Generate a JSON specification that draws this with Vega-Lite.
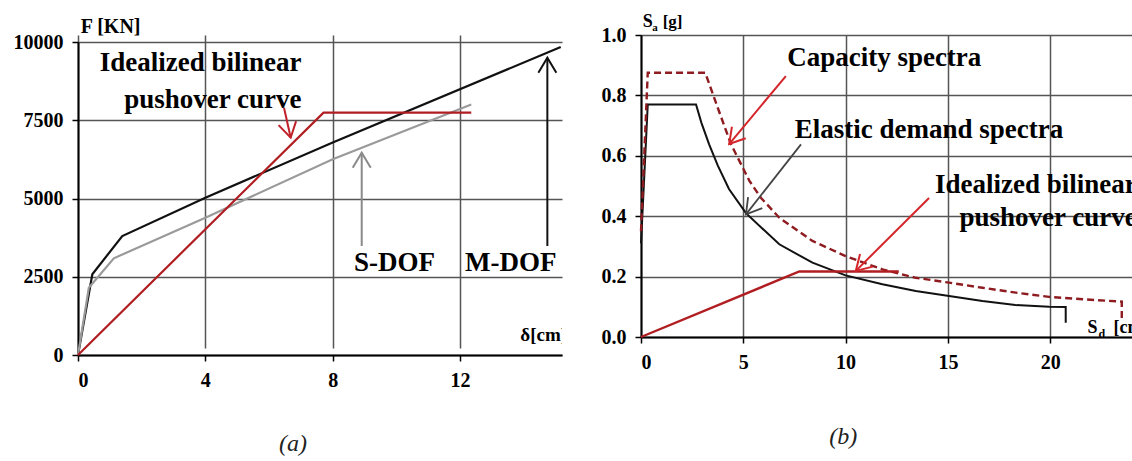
{
  "$schema": "https://vega.github.io/schema/vega-lite/v6.json",
  "padding": {"left": 13, "top": 12, "right": 0, "bottom": 0},
  "background": "white",
  "spacing": 79,
  "bounds": "flush",
  "config": {
    "view": {"stroke": null},
    "font": "Liberation Serif",
    "axis": {
      "labelFont": "Liberation Serif", "labelFontSize": 20, "labelFontWeight": "bold", "labelColor": "#000",
      "domainColor": "#000", "domainWidth": 2, "tickColor": "#000", "tickWidth": 1.5, "tickSize": 6,
      "gridColor": "#555", "gridWidth": 1.5, "gridOpacity": 1, "labelPadding": 9
    },
    "text": {"font": "Liberation Serif", "fontWeight": "bold", "color": "#000"}
  },
  "hconcat": [
    {
      "width": 484,
      "height": 320,
      "layer": [
        {
          "data": {"values": [
            {"s": "M-DOF", "i": 0, "x": 0, "y": 0},
            {"s": "M-DOF", "i": 1, "x": 0.45, "y": 2580},
            {"s": "M-DOF", "i": 2, "x": 1.39, "y": 3800},
            {"s": "M-DOF", "i": 3, "x": 4, "y": 5026},
            {"s": "M-DOF", "i": 4, "x": 8, "y": 6790},
            {"s": "M-DOF", "i": 5, "x": 15.16, "y": 9840},
            {"s": "S-DOF", "i": 0, "x": 0, "y": 0},
            {"s": "S-DOF", "i": 1, "x": 0.34, "y": 2150},
            {"s": "S-DOF", "i": 2, "x": 1.125, "y": 3090},
            {"s": "S-DOF", "i": 3, "x": 4, "y": 4387},
            {"s": "S-DOF", "i": 4, "x": 8, "y": 6252},
            {"s": "S-DOF", "i": 5, "x": 12.35, "y": 8000},
            {"s": "Bilinear", "i": 0, "x": 0, "y": 0},
            {"s": "Bilinear", "i": 1, "x": 7.71, "y": 7741},
            {"s": "Bilinear", "i": 2, "x": 12.35, "y": 7741}
          ]},
          "mark": {"type": "line", "strokeWidth": 2.2},
          "encoding": {
            "x": {"field": "x", "type": "quantitative", "scale": {"domain": [0, 15.2], "nice": false, "zero": false}, "axis": {"values": [0, 4, 8, 12], "title": null, "grid": true}},
            "y": {"field": "y", "type": "quantitative", "scale": {"domain": [0, 10000], "range": [320, 7], "nice": false}, "axis": {"values": [0, 2500, 5000, 7500, 10000], "format": "d", "title": null, "grid": true}},
            "color": {"field": "s", "type": "nominal", "scale": {"domain": ["M-DOF", "S-DOF", "Bilinear"], "range": ["#111111", "#9a9a9a", "#b01e22"]}, "legend": null},
            "order": {"field": "i", "type": "quantitative"}
          }
        },
        {
          "data": {"values": [{"x": 6.47, "y": 7901, "x2": 6.68, "y2": 6942}]},
          "layer": [
            {"mark": {"type": "rule", "color": "#c0202a", "strokeWidth": 2}, "encoding": {"x": {"field": "x", "type": "quantitative"}, "y": {"field": "y", "type": "quantitative"}, "x2": {"field": "x2"}, "y2": {"field": "y2"}}},
            {"mark": {"type": "point", "shape": "M-0.6,1L0,0L0.6,1", "size": 900, "angle": 167, "filled": false, "opacity": 1, "color": "#c0202a", "strokeWidth": 2}, "encoding": {"x": {"field": "x2", "type": "quantitative"}, "y": {"field": "y2", "type": "quantitative"}}}
          ]
        },
        {
          "data": {"values": [{"x": 8.91, "y": 3482, "x2": 8.91, "y2": 6463}]},
          "layer": [
            {"mark": {"type": "rule", "color": "#8a8a8a", "strokeWidth": 2}, "encoding": {"x": {"field": "x", "type": "quantitative"}, "y": {"field": "y", "type": "quantitative"}, "x2": {"field": "x2"}, "y2": {"field": "y2"}}},
            {"mark": {"type": "point", "shape": "M-0.6,1L0,0L0.6,1", "size": 900, "angle": 0, "filled": false, "opacity": 1, "color": "#8a8a8a", "strokeWidth": 2}, "encoding": {"x": {"field": "x2", "type": "quantitative"}, "y": {"field": "y2", "type": "quantitative"}}}
          ]
        },
        {
          "data": {"values": [{"x": 14.74, "y": 3482, "x2": 14.74, "y2": 9498}]},
          "layer": [
            {"mark": {"type": "rule", "color": "#111111", "strokeWidth": 2}, "encoding": {"x": {"field": "x", "type": "quantitative"}, "y": {"field": "y", "type": "quantitative"}, "x2": {"field": "x2"}, "y2": {"field": "y2"}}},
            {"mark": {"type": "point", "shape": "M-0.6,1L0,0L0.6,1", "size": 900, "angle": 0, "filled": false, "opacity": 1, "color": "#111111", "strokeWidth": 2}, "encoding": {"x": {"field": "x2", "type": "quantitative"}, "y": {"field": "y2", "type": "quantitative"}}}
          ]
        },
        {
          "data": {"values": [
            {"t": "Idealized bilinear", "x": 7.02, "y": 9073},
            {"t": "pushover curve", "x": 7.02, "y": 7891}
          ]},
          "mark": {"type": "text", "fontSize": 27, "align": "right", "baseline": "alphabetic"},
          "encoding": {"x": {"field": "x", "type": "quantitative"}, "y": {"field": "y", "type": "quantitative"}, "text": {"field": "t"}}
        },
        {
          "data": {"values": [
            {"t": "S-DOF", "x": 9.94, "y": 2684},
            {"t": "M-DOF", "x": 13.59, "y": 2684}
          ]},
          "mark": {"type": "text", "fontSize": 27, "align": "center", "baseline": "alphabetic"},
          "encoding": {"x": {"field": "x", "type": "quantitative"}, "y": {"field": "y", "type": "quantitative"}, "text": {"field": "t"}}
        },
        {
          "data": {"values": [{"t": "δ[cm]", "x": 13.89, "y": 447}]},
          "mark": {"type": "text", "fontSize": 19, "align": "left", "baseline": "alphabetic", "clip": true},
          "encoding": {"x": {"field": "x", "type": "quantitative"}, "y": {"field": "y", "type": "quantitative"}, "text": {"field": "t"}}
        },
        {
          "data": {"values": [{"t": "F [KN]", "x": 0.085, "y": 10288}]},
          "mark": {"type": "text", "fontSize": 20, "align": "left", "baseline": "alphabetic"},
          "encoding": {"x": {"field": "x", "type": "quantitative"}, "y": {"field": "y", "type": "quantitative"}, "text": {"field": "t"}}
        },
        {
          "data": {"values": [{"t": "(a)", "x": 6.75, "y": -3067}]},
          "mark": {"type": "text", "fontSize": 24, "fontWeight": "normal", "fontStyle": "italic", "align": "center", "baseline": "alphabetic", "color": "#222"},
          "encoding": {"x": {"field": "x", "type": "quantitative"}, "y": {"field": "y", "type": "quantitative"}, "text": {"field": "t"}}
        }
      ]
    },
    {
      "width": 491,
      "height": 302,
      "layer": [
        {
          "data": {"values": [
            {"i": 0, "x": 0, "y": 0.31},
            {"i": 1, "x": 0.33, "y": 0.77},
            {"i": 2, "x": 2.69, "y": 0.77},
            {"i": 3, "x": 2.95, "y": 0.71},
            {"i": 4, "x": 3.33, "y": 0.638},
            {"i": 5, "x": 3.75, "y": 0.568},
            {"i": 6, "x": 4.3, "y": 0.49},
            {"i": 7, "x": 5.13, "y": 0.41},
            {"i": 8, "x": 6.76, "y": 0.307},
            {"i": 9, "x": 8.38, "y": 0.246},
            {"i": 10, "x": 10.0, "y": 0.204},
            {"i": 11, "x": 11.8, "y": 0.175},
            {"i": 12, "x": 13.43, "y": 0.152},
            {"i": 13, "x": 15.06, "y": 0.136},
            {"i": 14, "x": 16.69, "y": 0.119},
            {"i": 15, "x": 18.3, "y": 0.106},
            {"i": 16, "x": 19.95, "y": 0.1},
            {"i": 17, "x": 20.76, "y": 0.099},
            {"i": 18, "x": 20.76, "y": 0.047}
          ]},
          "mark": {"type": "line", "color": "#111111", "strokeWidth": 2},
          "encoding": {
            "x": {"field": "x", "type": "quantitative", "scale": {"domain": [0, 24], "nice": false, "zero": false}, "axis": {"values": [0, 5, 10, 15, 20], "format": "d", "title": null, "grid": true}},
            "y": {"field": "y", "type": "quantitative", "scale": {"domain": [0, 1], "nice": false}, "axis": {"values": [0, 0.2, 0.4, 0.6, 0.8, 1.0], "format": ".1f", "title": null, "grid": true}},
            "order": {"field": "i", "type": "quantitative"}
          }
        },
        {
          "data": {"values": [
            {"i": 0, "x": 0, "y": 0.35},
            {"i": 1, "x": 0.33, "y": 0.875},
            {"i": 2, "x": 3.14, "y": 0.875},
            {"i": 3, "x": 3.8, "y": 0.75},
            {"i": 4, "x": 4.4, "y": 0.638},
            {"i": 5, "x": 5.3, "y": 0.517},
            {"i": 6, "x": 5.86, "y": 0.461},
            {"i": 7, "x": 6.76, "y": 0.395},
            {"i": 8, "x": 8.38, "y": 0.318},
            {"i": 9, "x": 10.0, "y": 0.268},
            {"i": 10, "x": 11.8, "y": 0.224},
            {"i": 11, "x": 13.43, "y": 0.196},
            {"i": 12, "x": 15.06, "y": 0.18},
            {"i": 13, "x": 16.69, "y": 0.163},
            {"i": 14, "x": 18.32, "y": 0.147},
            {"i": 15, "x": 19.95, "y": 0.133},
            {"i": 16, "x": 21.6, "y": 0.125},
            {"i": 17, "x": 23.5, "y": 0.117},
            {"i": 18, "x": 23.5, "y": 0.053}
          ]},
          "mark": {"type": "line", "color": "#8e1b1f", "strokeWidth": 2.4, "strokeDash": [7, 4]},
          "encoding": {
            "x": {"field": "x", "type": "quantitative"},
            "y": {"field": "y", "type": "quantitative"},
            "order": {"field": "i", "type": "quantitative"}
          }
        },
        {
          "data": {"values": [
            {"i": 0, "x": 0, "y": 0},
            {"i": 1, "x": 7.74, "y": 0.217},
            {"i": 2, "x": 12.6, "y": 0.217}
          ]},
          "mark": {"type": "line", "color": "#b01e22", "strokeWidth": 2.4},
          "encoding": {
            "x": {"field": "x", "type": "quantitative"},
            "y": {"field": "y", "type": "quantitative"},
            "order": {"field": "i", "type": "quantitative"}
          }
        },
        {
          "data": {"values": [{"x": 7.08, "y": 0.864, "x2": 4.31, "y2": 0.639}]},
          "layer": [
            {"mark": {"type": "rule", "color": "#d4252b", "strokeWidth": 2}, "encoding": {"x": {"field": "x", "type": "quantitative"}, "y": {"field": "y", "type": "quantitative"}, "x2": {"field": "x2"}, "y2": {"field": "y2"}}},
            {"mark": {"type": "point", "shape": "M-0.6,1L0,0L0.6,1", "size": 900, "angle": 220, "filled": false, "opacity": 1, "color": "#d4252b", "strokeWidth": 2}, "encoding": {"x": {"field": "x2", "type": "quantitative"}, "y": {"field": "y2", "type": "quantitative"}}}
          ]
        },
        {
          "data": {"values": [{"x": 7.82, "y": 0.638, "x2": 5.13, "y2": 0.406}]},
          "layer": [
            {"mark": {"type": "rule", "color": "#444444", "strokeWidth": 1.8}, "encoding": {"x": {"field": "x", "type": "quantitative"}, "y": {"field": "y", "type": "quantitative"}, "x2": {"field": "x2"}, "y2": {"field": "y2"}}},
            {"mark": {"type": "point", "shape": "M-0.6,1L0,0L0.6,1", "size": 900, "angle": 218, "filled": false, "opacity": 1, "color": "#444444", "strokeWidth": 1.8}, "encoding": {"x": {"field": "x2", "type": "quantitative"}, "y": {"field": "y2", "type": "quantitative"}}}
          ]
        },
        {
          "data": {"values": [{"x": 14.08, "y": 0.46, "x2": 10.5, "y2": 0.219}]},
          "layer": [
            {"mark": {"type": "rule", "color": "#d4252b", "strokeWidth": 2}, "encoding": {"x": {"field": "x", "type": "quantitative"}, "y": {"field": "y", "type": "quantitative"}, "x2": {"field": "x2"}, "y2": {"field": "y2"}}},
            {"mark": {"type": "point", "shape": "M-0.6,1L0,0L0.6,1", "size": 900, "angle": 225, "filled": false, "opacity": 1, "color": "#d4252b", "strokeWidth": 2}, "encoding": {"x": {"field": "x2", "type": "quantitative"}, "y": {"field": "y2", "type": "quantitative"}}}
          ]
        },
        {
          "data": {"values": [
            {"t": "Capacity spectra", "x": 11.89, "y": 0.897},
            {"t": "Elastic demand spectra", "x": 14.08, "y": 0.66}
          ]},
          "mark": {"type": "text", "fontSize": 27, "align": "center", "baseline": "alphabetic"},
          "encoding": {"x": {"field": "x", "type": "quantitative"}, "y": {"field": "y", "type": "quantitative"}, "text": {"field": "t"}}
        },
        {
          "data": {"values": [
            {"t": "Idealized bilinear", "x": 24.23, "y": 0.477},
            {"t": "pushover curve", "x": 24.23, "y": 0.368}
          ]},
          "mark": {"type": "text", "fontSize": 27, "align": "right", "baseline": "alphabetic", "clip": true},
          "encoding": {"x": {"field": "x", "type": "quantitative"}, "y": {"field": "y", "type": "quantitative"}, "text": {"field": "t"}}
        },
        {
          "data": {"values": [{"t": "S", "x": 0.08, "y": 1.027}]},
          "mark": {"type": "text", "fontSize": 18, "align": "left", "baseline": "alphabetic"},
          "encoding": {"x": {"field": "x", "type": "quantitative"}, "y": {"field": "y", "type": "quantitative"}, "text": {"field": "t"}}
        },
        {
          "data": {"values": [{"t": "a", "x": 0.08, "y": 1.027}]},
          "mark": {"type": "text", "fontSize": 11, "align": "left", "baseline": "alphabetic", "dx": 9.5, "dy": 4},
          "encoding": {"x": {"field": "x", "type": "quantitative"}, "y": {"field": "y", "type": "quantitative"}, "text": {"field": "t"}}
        },
        {
          "data": {"values": [{"t": "[g]", "x": 0.08, "y": 1.027}]},
          "mark": {"type": "text", "fontSize": 17, "align": "left", "baseline": "alphabetic", "dx": 20},
          "encoding": {"x": {"field": "x", "type": "quantitative"}, "y": {"field": "y", "type": "quantitative"}, "text": {"field": "t"}}
        },
        {
          "data": {"values": [{"t": "S", "x": 21.82, "y": 0.014}]},
          "mark": {"type": "text", "fontSize": 18, "align": "left", "baseline": "alphabetic", "clip": true},
          "encoding": {"x": {"field": "x", "type": "quantitative"}, "y": {"field": "y", "type": "quantitative"}, "text": {"field": "t"}}
        },
        {
          "data": {"values": [{"t": "d", "x": 21.82, "y": 0.014}]},
          "mark": {"type": "text", "fontSize": 12, "align": "left", "baseline": "alphabetic", "dx": 11, "dy": 5, "clip": true},
          "encoding": {"x": {"field": "x", "type": "quantitative"}, "y": {"field": "y", "type": "quantitative"}, "text": {"field": "t"}}
        },
        {
          "data": {"values": [{"t": "[cm]", "x": 21.82, "y": 0.014}]},
          "mark": {"type": "text", "fontSize": 18, "align": "left", "baseline": "alphabetic", "dx": 26, "clip": true},
          "encoding": {"x": {"field": "x", "type": "quantitative"}, "y": {"field": "y", "type": "quantitative"}, "text": {"field": "t"}}
        },
        {
          "data": {"values": [{"t": "(b)", "x": 9.88, "y": -0.354}]},
          "mark": {"type": "text", "fontSize": 24, "fontWeight": "normal", "fontStyle": "italic", "align": "center", "baseline": "alphabetic", "color": "#222"},
          "encoding": {"x": {"field": "x", "type": "quantitative"}, "y": {"field": "y", "type": "quantitative"}, "text": {"field": "t"}}
        }
      ]
    }
  ]
}
